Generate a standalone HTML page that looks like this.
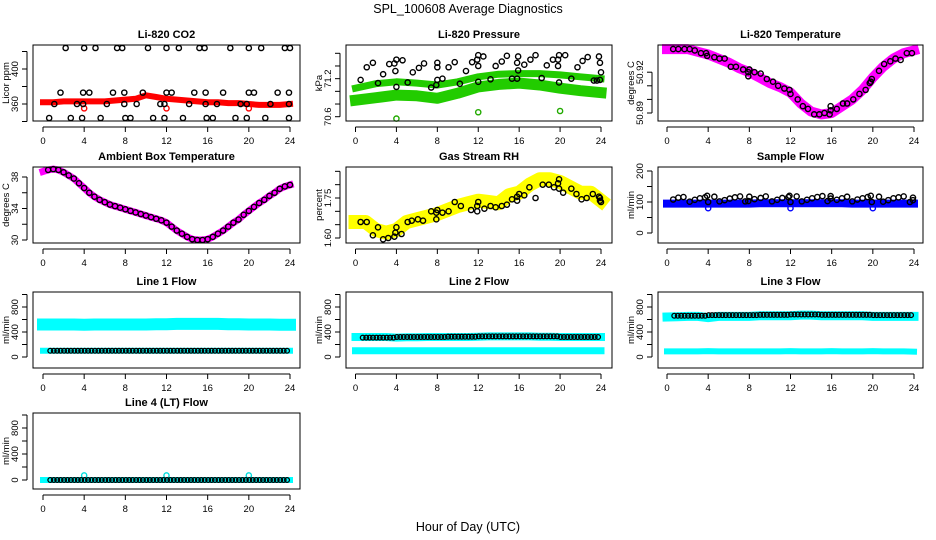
<!DOCTYPE html>
<html><head><meta charset="utf-8"><style>
html,body{margin:0;padding:0;background:#fff;}
svg{display:block;font-family:"Liberation Sans",Arial,sans-serif;}
</style></head><body>
<svg id="c" width="936" height="540" viewBox="0 0 936 540" xmlns="http://www.w3.org/2000/svg">
<text x="468" y="13" text-anchor="middle" font-size="12.5">SPL_100608  Average Diagnostics</text>
<text x="468" y="531" text-anchor="middle" font-size="12.5">Hour of Day (UTC)</text>
</svg>
<script>
// ---------- data ----------
const hourTicks = [0,4,8,12,16,20,24];
const hourly = [0,1,2,3,4,5,6,7,8,9,10,11,12,13,14,15,16,17,18,19,20,21,22,23,24];

const co2Band = [362,362,363,363,363,363,363,364,365,366,370,368,366,365,364,363,362,362,361,361,360,359,359,359,360];
const co2OutHours = [4,12,20];
const co2OutVals = [355,355,355];
const co2Hours = [2.2,4,5.1,7.2,7.7,10.2,12,13.2,15.2,15.7,18.2,20,21.2,23.5,24,
 1.7,3.9,4.5,6.8,7.9,9.7,12,12.5,14.7,15.8,17.5,20,20.5,22.8,23.9,
 1.1,3.3,3.9,6.2,7.9,9.1,11.4,11.8,14.2,15.8,16.9,19.2,19.8,22.1,23.9,
 0.6,2.7,3.8,5.6,8,8.5,10.7,11.8,13.6,15.9,16.5,18.7,19.8,21.6,23.9];
const co2Vals = [424,424,424,424,424,424,424,424,424,424,424,424,424,424,424,
 373,373,373,373,373,373,373,373,373,373,373,373,373,373,373,
 360,360,360,360,360,360,360,360,360,360,360,360,360,360,360,
 344,344,344,344,344,344,344,344,344,344,344,344,344,344,344];

const presHoursBand = [0,2,4,6,8,10,12,14,16,18,20,22,24];
const presUpper = [71.05,71.12,71.15,71.13,71.1,71.15,71.23,71.27,71.28,71.28,71.26,71.23,71.2];
const presLower = [70.86,70.9,70.94,70.93,70.89,70.97,71.07,71.11,71.13,71.1,71.05,71.01,70.98];
const presOutHours = [4,12,20];
const presOutVals = [70.57,70.67,70.69];
const presHours = [0.5,1.1,1.7,2.2,2.7,3.3,3.8,3.9,4.0,4.0,4.6,5.1,5.6,6.2,6.7,7.4,7.9,8.0,8.0,8.0,8.5,9.1,9.7,10.2,10.8,11.4,11.9,12.0,12.0,12.0,12.5,13.2,13.7,14.3,14.8,15.3,15.8,15.8,15.9,15.9,16.5,17.1,17.6,18.2,18.7,19.3,19.8,19.8,19.9,19.9,20.5,21.1,21.7,22.2,22.7,23.3,23.6,23.8,23.9,23.9,24.0];
const presVals = [71.18,71.38,71.45,71.13,71.27,71.43,71.44,71.32,71.5,71.07,71.49,71.14,71.3,71.37,71.44,71.06,71.1,71.45,71.38,71.18,71.2,71.38,71.46,71.12,71.32,71.46,71.5,71.4,71.57,71.15,71.55,71.19,71.4,71.47,71.56,71.2,71.2,71.45,71.33,71.55,71.42,71.5,71.57,71.21,71.41,71.5,71.5,71.4,71.57,71.14,71.57,71.2,71.38,71.48,71.54,71.17,71.17,71.55,71.45,71.18,71.3];

const tempBand = [50.937,50.937,50.937,50.935,50.933,50.93,50.927,50.923,50.92,50.916,50.912,50.909,50.905,50.897,50.891,50.889,50.890,50.895,50.900,50.907,50.916,50.924,50.930,50.934,50.936];
const tempHours = [0.6,1.1,1.7,2.2,2.7,3.3,3.8,3.9,4.6,5.1,5.6,6.2,6.7,7.4,7.9,7.9,8.0,8.5,9.1,9.7,10.3,10.8,11.4,11.9,12.0,12.7,13.2,13.7,14.3,14.8,15.3,15.8,15.9,15.9,16.5,17.1,17.5,18.1,18.7,19.3,19.7,19.8,19.9,20.6,21.1,21.7,22.2,22.7,23.3,23.8];
const tempVals = [50.937,50.937,50.937,50.937,50.936,50.934,50.934,50.932,50.931,50.93,50.93,50.924,50.924,50.922,50.92,50.917,50.922,50.920,50.919,50.915,50.913,50.91,50.908,50.907,50.904,50.900,50.895,50.893,50.889,50.889,50.890,50.889,50.892,50.895,50.893,50.897,50.897,50.900,50.904,50.907,50.912,50.913,50.915,50.921,50.926,50.928,50.930,50.929,50.934,50.934];

const ambHours = [0,0.5,1,1.5,2,2.5,3,3.5,4,4.5,5,5.5,6,6.5,7,7.5,8,8.5,9,9.5,10,10.5,11,11.5,12,12.5,13,13.5,14,14.5,15,15.5,16,16.5,17,17.5,18,18.5,19,19.5,20,20.5,21,21.5,22,22.5,23,23.5,24];
const ambVals = [38.7,38.9,39.0,38.9,38.6,38.2,37.8,37.2,36.6,36.0,35.5,35.1,34.8,34.5,34.3,34.1,33.9,33.7,33.5,33.3,33.1,32.9,32.7,32.5,32.2,31.7,31.2,30.8,30.4,30.1,30.0,30.0,30.1,30.4,30.8,31.2,31.7,32.2,32.6,33.2,33.7,34.2,34.7,35.1,35.6,36.0,36.5,36.8,37.0];

const rhBand = [1.66,1.66,1.63,1.62,1.63,1.66,1.67,1.68,1.69,1.705,1.72,1.73,1.74,1.735,1.73,1.76,1.77,1.80,1.82,1.82,1.81,1.79,1.77,1.77,1.74];
const rhHours = [0.5,1.1,1.7,2.2,2.7,3.2,3.8,3.9,4.0,4.5,5.1,5.5,6.1,6.6,7.4,7.9,7.9,8.0,8.5,9.1,9.7,10.3,11.3,11.9,12.0,11.9,12.6,13.2,13.7,14.3,14.8,15.3,15.8,15.8,16.0,16.5,17.0,17.6,18.3,18.9,19.4,19.8,19.9,19.9,20.3,21.1,21.6,22.1,22.6,23.2,23.9,23.9,24,23.8];
const rhVals = [1.66,1.66,1.61,1.64,1.595,1.60,1.605,1.62,1.64,1.615,1.66,1.665,1.67,1.665,1.70,1.695,1.67,1.705,1.695,1.70,1.735,1.72,1.705,1.70,1.735,1.72,1.71,1.72,1.715,1.72,1.725,1.745,1.755,1.74,1.765,1.76,1.79,1.75,1.80,1.80,1.79,1.805,1.82,1.785,1.77,1.785,1.765,1.745,1.75,1.765,1.75,1.74,1.735,1.755];

const sfBand = [95,95,95,95,95,95,95,95,95,96,96,96,96,96,96,96,96,96,95,95,95,95,95,95,95];
const sfOutHours = [4,12,20];
const sfOutVals = [80,80,80];
const sfHours = [0.6,1.1,1.6,2.2,2.7,3.2,3.7,3.9,4.0,4.6,5.1,5.6,6.1,6.6,7.1,7.6,7.9,8.0,8.5,9.1,9.6,10.2,10.7,11.2,11.8,11.9,12.0,12.6,13.1,13.6,14.1,14.6,15.1,15.6,15.9,15.9,16.5,17.0,17.5,18.0,18.5,19.0,19.5,19.8,19.9,20.6,21.0,21.5,22.0,22.5,23.0,23.6,23.9,23.9];
const sfVals = [108,114,116,101,107,112,115,120,100,117,102,106,111,115,118,102,103,117,109,113,118,102,107,113,116,120,100,118,102,107,112,116,119,103,111,119,107,112,117,102,108,112,116,120,100,117,101,106,112,115,118,100,114,106];

const l1High = [520,520,520,520,515,520,520,520,520,520,520,525,525,530,530,530,530,530,525,525,520,520,520,515,515];
const l1Low = [100,100,100,100,100,100,100,100,100,100,100,100,100,100,100,100,100,100,100,100,100,100,100,100,100];
const l1Black = [100,100,100,100,100,100,100,100,100,100,100,100,100,100,100,100,100,100,100,100,100,100,100,100,100];

const l2High = [320,320,320,320,310,315,315,320,320,320,320,320,325,330,330,330,330,330,325,325,320,320,320,320,320];
const l2Low = [100,100,100,100,100,100,100,100,100,100,100,100,100,100,100,100,100,100,100,100,100,100,100,100,100];
const l2Black = [310,310,310,310,320,320,320,320,320,325,325,325,330,330,330,330,330,330,330,330,320,320,320,320,320];

const l3High = [640,645,650,650,630,650,650,650,650,660,660,660,660,670,670,660,660,660,660,660,650,650,650,650,650];
const l3Low = [90,90,90,90,95,90,90,90,90,90,90,90,95,90,90,90,95,90,90,90,95,90,90,90,85];
const l3Black = [660,660,660,660,670,670,670,670,670,675,675,675,680,680,680,675,675,675,675,675,670,670,670,670,670];

const l4Cyan = [0,0,0,0,0,0,0,0,0,0,0,0,0,0,0,0,0,0,0,0,0,0,0,0,0];
const l4Black = [0,0,0,0,0,0,0,0,0,0,0,0,0,0,0,0,0,0,0,0,0,0,0,0,0];
const l4OutHours = [4,12,20];
const l4OutVals = [70,70,70];

// ---------- layout ----------
const NS = "http://www.w3.org/2000/svg";
const svg = document.getElementById('c');
const cols = [{bx0:33,bx1:300,h0:43,h24:290},{bx0:346,bx1:612,h0:355.5,h24:601},{bx0:658,bx1:923,h0:667,h24:914}];
const rows = [45,167,292,413];
const BH = 76;

function el(tag, attrs, parent){
  const e = document.createElementNS(NS, tag);
  for (const k in attrs) e.setAttribute(k, attrs[k]);
  (parent||svg).appendChild(e);
  return e;
}

function panel(name, title, ci, ri, yv1, yp1, yv2, yp2, yTicks, yLabels, ylab){
  const c = cols[ci], top = rows[ri], bot = top + BH;
  const g = el('g', {});
  
  
  const xs = h => c.h0 + (c.h24 - c.h0) * h / 24;
  const ys = v => yp1 + (v - yv1) * (yp2 - yp1) / (yv2 - yv1);
  const t = el('text', {x:(c.bx0+c.bx1)/2, y:top-7, 'text-anchor':'middle', 'font-size':'11', 'font-weight':'bold'}, g);
  t.textContent = title;
  
  
  const plot = el('g', {}, g);
  
  
  const axes = el('g', {}, g);
  
  
  const box = el('rect', {x:c.bx0, y:top, width:c.bx1-c.bx0, height:BH, fill:'none', stroke:'#000', 'stroke-width':'1'}, axes);
  
  
  // x axis
  el('line', {x1:xs(hourTicks[0]), x2:xs(hourTicks[hourTicks.length-1]), y1:bot+6, y2:bot+6, stroke:'#000'}, axes);
  hourTicks.forEach(h => {
    el('line', {x1:xs(h), x2:xs(h), y1:bot+6, y2:bot+11, stroke:'#000'}, axes);
    const tl = el('text', {x:xs(h), y:bot+23, 'text-anchor':'middle', 'font-size':'9.5'}, axes);
    tl.textContent = h;
    
    
  });
  // y axis
  const ax = c.bx0 - 6;
  el('line', {x1:ax, x2:ax, y1:ys(yTicks[0]), y2:ys(yTicks[yTicks.length-1]), stroke:'#000'}, axes);
  yTicks.forEach(v => el('line', {x1:ax-5, x2:ax, y1:ys(v), y2:ys(v), stroke:'#000'}, axes));
  yLabels.forEach(v => {
    const yy = ys(parseFloat(v));
    const tl = el('text', {x:ax-9, y:yy, 'text-anchor':'middle', 'font-size':'9.5', transform:`rotate(-90 ${ax-9} ${yy})`}, axes);
    tl.textContent = v;
    
    
  });
  const yl = el('text', {x:c.bx0-24, y:top+BH/2, 'text-anchor':'middle', 'font-size':'9.5', transform:`rotate(-90 ${c.bx0-24} ${top+BH/2})`}, axes);
  yl.textContent = ylab;
  
  
  return {xs, ys, plot};
}

function band(p, hours, vals, color, w, name){
  const pts = hours.map((h,i) => p.xs(h).toFixed(1)+','+p.ys(vals[i]).toFixed(1)).join(' ');
  const pl = el('polyline', {points:pts, fill:'none', stroke:color, 'stroke-width':w, 'stroke-linejoin':'round', 'stroke-linecap':'square'}, p.plot);
  
  
}
function pts(p, hours, vals, color, name, r){
  hours.forEach((h,i) => {
    const ci = el('circle', {cx:p.xs(h), cy:p.ys(vals[i]), r:r||2.6, fill:'none', stroke:color, 'stroke-width':'1.4'}, p.plot);
    
    
  });
}
// dense hourly points: three circles per hourly value
function densePts(p, vals, color, name, start){
  vals.forEach((v,i) => {
    if (i === 24) return;
    [0.05,0.38,0.71].forEach(o => {
      const h = hourly[i] + o;
      if (h < start) return;
      const ci = el('circle', {cx:p.xs(h), cy:p.ys(v), r:2.4, fill:'none', stroke:color, 'stroke-width':'1.3'}, p.plot);
      
      
    });
  });
}

// CO2
let p = panel('co2','Li-820 CO2',0,0, 360,104, 400,69, [340,360,380,400,420], ['360','400'], 'Licor ppm');
band(p, hourly, co2Band, '#f00', 6, 'co2-band');
pts(p, co2OutHours, co2OutVals, '#f00', 'co2-outlier');
pts(p, co2Hours, co2Vals, '#000', 'co2-point');

// Pressure
p = panel('pressure','Li-820 Pressure',1,0, 70.6,116.7, 71.6,53.3, [70.6,70.8,71.0,71.2,71.4,71.6], ['70.6','71.2'], 'kPa');
band(p, presHoursBand, presLower, '#22cc00', 11, 'pressure-lower-band');
band(p, presHoursBand, presUpper, '#22cc00', 7, 'pressure-upper-band');
pts(p, presOutHours, presOutVals, '#22aa00', 'pressure-outlier');
pts(p, presHours, presVals, '#000', 'pressure-point');

// Li-820 temperature
p = panel('li820-temp','Li-820 Temperature',2,0, 50.89,113, 50.92,72.2, [50.89,50.90,50.91,50.92], ['50.89','50.92'], 'degrees C');
band(p, hourly, tempBand, '#ff00ff', 10, 'li820-temp-band');
pts(p, tempHours, tempVals, '#000', 'li820-temp-point');

// Ambient
p = panel('ambient','Ambient Box Temperature',0,1, 30,240, 38,177, [30,32,34,36,38], ['30','34','38'], 'degrees C');
band(p, ambHours, ambVals, '#ff00ff', 7, 'ambient-band');
pts(p, ambHours.slice(1), ambVals.slice(1), '#000', 'ambient-point');

// RH
p = panel('rh','Gas Stream RH',1,1, 1.60,238, 1.75,198, [1.60,1.65,1.70,1.75,1.80,1.85], ['1.60','1.75'], 'percent');
band(p, hourly, rhBand, '#ffff00', 14, 'rh-band');
pts(p, rhHours, rhVals, '#000', 'rh-point');

// Sample flow
p = panel('sample-flow','Sample Flow',2,1, 0,233, 200,171, [0,50,100,150,200], ['0','100','200'], 'ml/min');
band(p, hourly, sfBand, '#0000ff', 8, 'sample-flow-band');
pts(p, sfOutHours, sfOutVals, '#0000ff', 'sample-flow-outlier');
pts(p, sfHours, sfVals, '#000', 'sample-flow-point');

// Line flows
const flowTicks = [0,200,400,600,800,1000];
const flowLabels = ['0','400','800'];
p = panel('line1','Line 1 Flow',0,2, 0,357, 800,307, flowTicks, flowLabels, 'ml/min');
band(p, hourly, l1High, '#00ffff', 12, 'line1-high-band');
band(p, hourly, l1Low, '#00ffff', 6, 'line1-low-band');
densePts(p, l1Black, '#000', 'line1-point', 0.4);

p = panel('line2','Line 2 Flow',1,2, 0,357, 800,307, flowTicks, flowLabels, 'ml/min');
band(p, hourly, l2High, '#00ffff', 8, 'line2-high-band');
band(p, hourly, l2Low, '#00ffff', 7, 'line2-low-band');
densePts(p, l2Black, '#000', 'line2-point', 0.4);

p = panel('line3','Line 3 Flow',2,2, 0,357, 800,307, flowTicks, flowLabels, 'ml/min');
band(p, hourly, l3High, '#00ffff', 9, 'line3-high-band');
band(p, hourly, l3Low, '#00ffff', 6, 'line3-low-band');
densePts(p, l3Black, '#000', 'line3-point', 0.4);

p = panel('line4','Line 4 (LT) Flow',0,3, 0,480, 800,428, flowTicks, flowLabels, 'ml/min');
band(p, hourly, l4Cyan, '#00ffff', 6, 'line4-band');
pts(p, l4OutHours, l4OutVals, '#00dddd', 'line4-outlier');
densePts(p, l4Black, '#000', 'line4-point', 0.4);
</script>
</body></html>
